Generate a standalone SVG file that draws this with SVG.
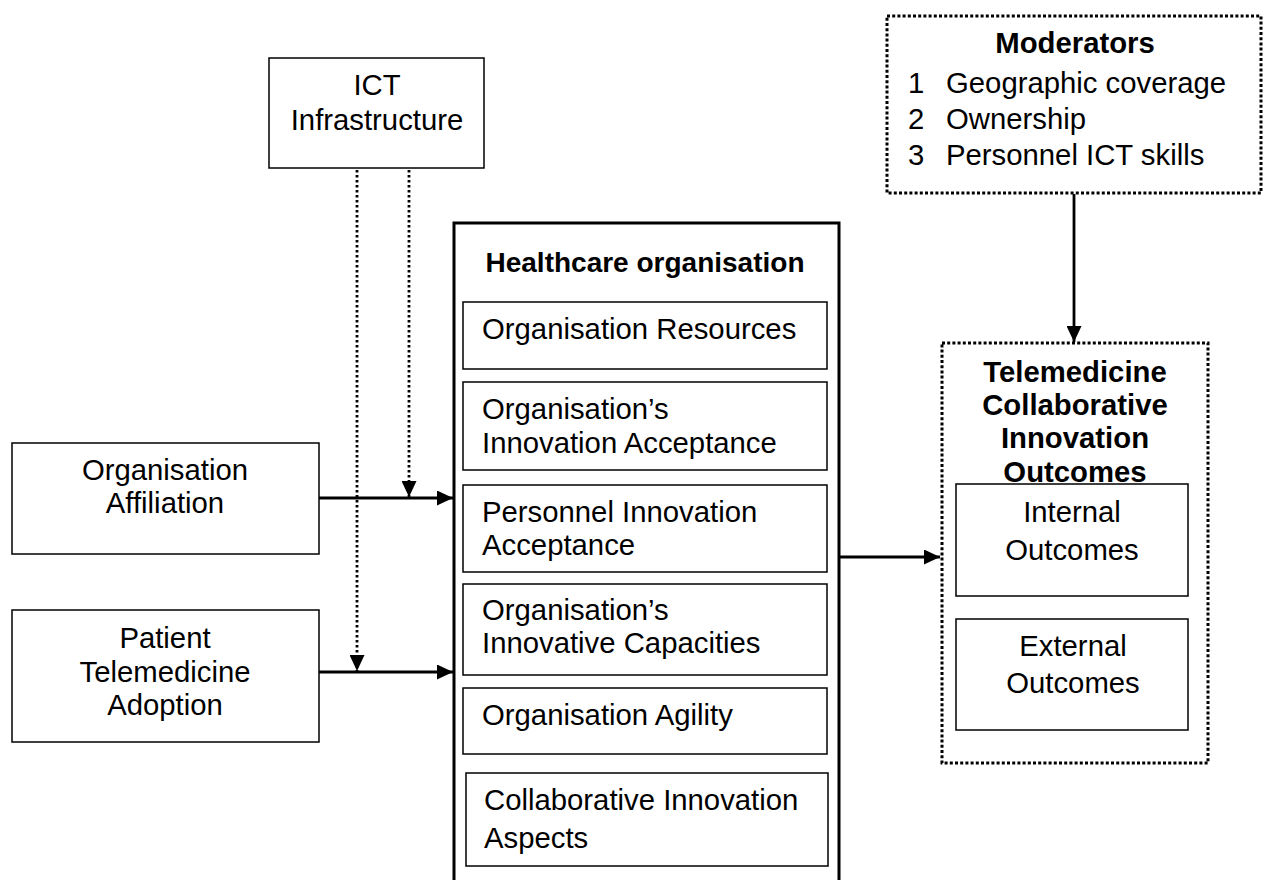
<svg xmlns="http://www.w3.org/2000/svg" width="1266" height="880" viewBox="0 0 1266 880">
  <style>
    text { font-family: "Liberation Sans", Arial, sans-serif; font-size: 29.3px; fill: #000; }
    .b { font-weight: bold; }
    .c { text-anchor: middle; }
    .box { fill: #fff; stroke: #000; stroke-width: 1.5; }
    .outer { fill: #fff; stroke: #000; stroke-width: 3; }
    .dotbox { fill: #fff; stroke: #000; stroke-width: 3; stroke-dasharray: 3 2.2; }
    .solid { fill: none; stroke: #000; stroke-width: 2.8; }
    .dotted { fill: none; stroke: #000; stroke-width: 2.8; stroke-dasharray: 2.6 2.4; }
  </style>
  <defs>
    <marker id="arrow" viewBox="0 0 16 15" refX="16" refY="7.5" markerWidth="16" markerHeight="15" markerUnits="userSpaceOnUse" orient="auto">
      <path d="M0,0 L16,7.5 L0,15 Z" fill="#000"/>
    </marker>
  </defs>
  <rect width="1266" height="880" fill="#fff"/>

  <!-- Moderators -->
  <g id="moderators">
    <rect class="dotbox" x="887" y="16" width="374" height="177"/>
    <text class="b c" x="1075" y="53">Moderators</text>
    <text x="908" y="93">1</text><text x="946" y="93">Geographic coverage</text>
    <text x="908" y="129">2</text><text x="946" y="129">Ownership</text>
    <text x="908" y="165">3</text><text x="946" y="165">Personnel ICT skills</text>
  </g>

  <!-- ICT Infrastructure -->
  <g id="ict">
    <rect class="box" x="269" y="58" width="215" height="110"/>
    <text class="c" x="377" y="95">ICT</text>
    <text class="c" x="377" y="130">Infrastructure</text>
  </g>

  <!-- Organisation Affiliation -->
  <g id="affiliation">
    <rect class="box" x="12" y="443" width="307" height="111"/>
    <text class="c" x="165" y="480">Organisation</text>
    <text class="c" x="165" y="513">Affiliation</text>
  </g>

  <!-- Patient Telemedicine Adoption -->
  <g id="patient">
    <rect class="box" x="12" y="610" width="307" height="132"/>
    <text class="c" x="165" y="648">Patient</text>
    <text class="c" x="165" y="682">Telemedicine</text>
    <text class="c" x="165" y="715">Adoption</text>
  </g>

  <!-- Healthcare organisation -->
  <g id="healthcare">
    <rect class="outer" x="454" y="223" width="385" height="670"/>
    <text class="b c" x="645" y="272" style="font-size:28px">Healthcare organisation</text>
    <rect class="box" x="463" y="302" width="364" height="67"/>
    <text x="482" y="339">Organisation Resources</text>
    <rect class="box" x="463" y="382" width="364" height="88"/>
    <text x="482" y="419">Organisation’s</text>
    <text x="482" y="453">Innovation Acceptance</text>
    <rect class="box" x="463" y="485" width="364" height="87"/>
    <text x="482" y="522">Personnel Innovation</text>
    <text x="482" y="555">Acceptance</text>
    <rect class="box" x="463" y="584" width="364" height="91"/>
    <text x="482" y="620">Organisation’s</text>
    <text x="482" y="653">Innovative Capacities</text>
    <rect class="box" x="463" y="688" width="364" height="66"/>
    <text x="482" y="725">Organisation Agility</text>
    <rect class="box" x="466" y="773" width="362" height="93"/>
    <text x="484" y="810">Collaborative Innovation</text>
    <text x="484" y="848">Aspects</text>
  </g>

  <!-- Telemedicine Collaborative Innovation Outcomes -->
  <g id="outcomes">
    <rect class="dotbox" x="942" y="343" width="266" height="420" stroke-width="2.4"/>
    <text class="b c" x="1075" y="382">Telemedicine</text>
    <text class="b c" x="1075" y="415">Collaborative</text>
    <text class="b c" x="1075" y="448">Innovation</text>
    <text class="b c" x="1075" y="482">Outcomes</text>
    <rect class="box" x="956" y="484" width="232" height="112"/>
    <text class="c" x="1072" y="522">Internal</text>
    <text class="c" x="1072" y="560">Outcomes</text>
    <rect class="box" x="956" y="619" width="232" height="111"/>
    <text class="c" x="1073" y="656">External</text>
    <text class="c" x="1073" y="693">Outcomes</text>
  </g>

  <!-- Connectors -->
  <g id="connectors">
    <line class="solid" x1="319" y1="498" x2="453" y2="498" marker-end="url(#arrow)"/>
    <line class="solid" x1="319" y1="672" x2="453" y2="672" marker-end="url(#arrow)"/>
    <line class="solid" x1="839" y1="557" x2="940" y2="557" marker-end="url(#arrow)"/>
    <line class="solid" x1="1074" y1="194" x2="1074" y2="342" marker-end="url(#arrow)"/>
    <line class="dotted" x1="409" y1="170" x2="409" y2="497" marker-end="url(#arrow)"/>
    <line class="dotted" x1="357" y1="170" x2="357" y2="671" marker-end="url(#arrow)"/>
  </g>
</svg>
